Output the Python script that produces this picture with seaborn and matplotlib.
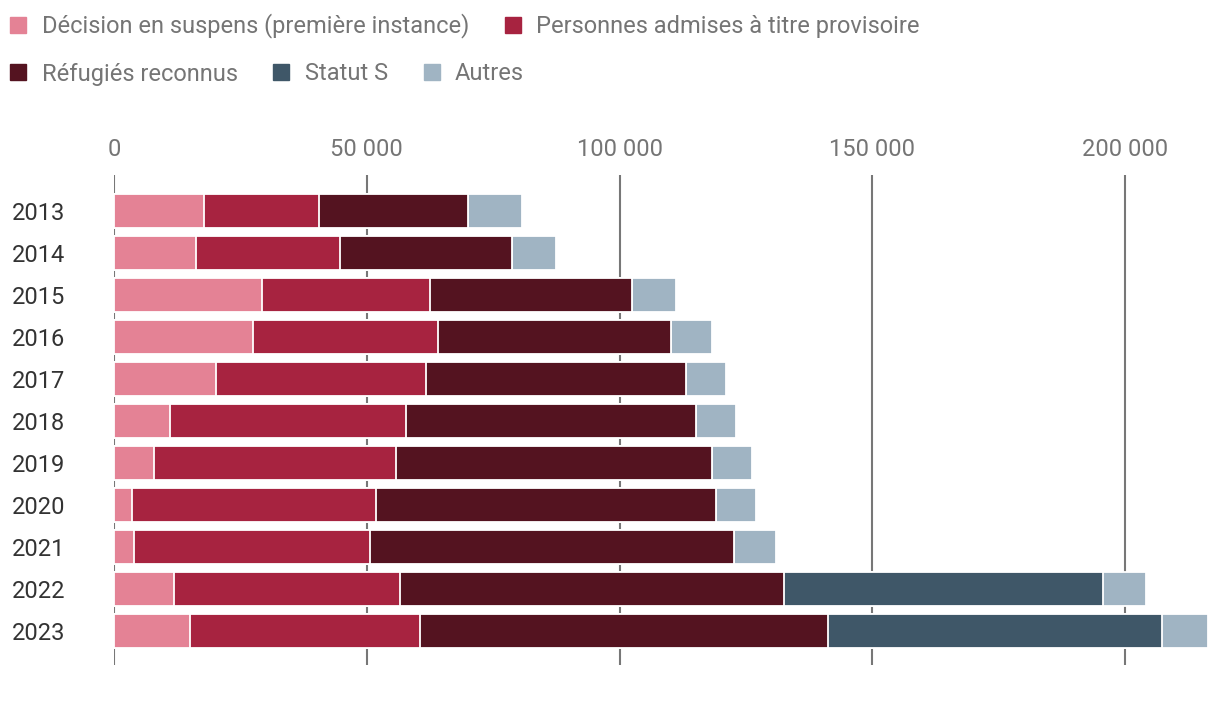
import pandas as pd
import seaborn as sns
import numpy as np
import matplotlib.pyplot as plt
from matplotlib.lines import Line2D
from matplotlib.ticker import FuncFormatter

# values (persons)
years = ["2013", "2014", "2015", "2016", "2017", "2018", "2019", "2020", "2021", "2022", "2023"]
pending = [17800, 16300, 29300, 27400, 20200, 11100, 7900, 3600, 3900, 11900, 15100]
provisional = [22700, 28500, 33200, 36700, 41500, 46700, 47900, 48200, 46700, 44700, 45500]
refugees = [29600, 34000, 40000, 46000, 51500, 57300, 62500, 67300, 72000, 76000, 80700]
status_s = [0, 0, 0, 0, 0, 0, 0, 0, 0, 63000, 66000]
others = [10600, 8700, 8700, 8200, 7900, 8000, 7900, 7900, 8300, 8600, 9100]

series_names = ["Décision en suspens (première instance)", "Personnes admises à titre provisoire",
                "Réfugiés reconnus", "Statut S", "Autres"]
colors = ["#e48295", "#a72340", "#541320", "#3f5768", "#a0b4c3"]

sns.set_style("white")
plt.rcParams["font.family"] = ["Roboto", "DejaVu Sans"]

df = pd.DataFrame({"year": years, "pending": pending, "provisional": provisional,
                   "refugees": refugees, "status_s": status_s, "others": others})
cols = ["pending", "provisional", "refugees", "status_s", "others"]
cum = df[cols].cumsum(axis=1)

fig = plt.figure(figsize=(12.2, 7.12), dpi=100)
ax = fig.add_axes([114 / 1220, 1 - 665 / 712, (1210 - 114) / 1220, (665 - 175) / 712])

# stacked bars: draw cumulative totals from the outermost inwards
for col, color in reversed(list(zip(cols, colors))):
    sns.barplot(x=cum[col], y=df["year"], color=color, orient="h", width=0.8,
                edgecolor="white", linewidth=1.3, saturation=1, ax=ax, zorder=3)

ax.set_xlim(0, 216800)
ax.set_ylim(10.81, -0.857)
ax.set_xticks([0, 50000, 100000, 150000, 200000])
ax.xaxis.set_major_formatter(FuncFormatter(lambda v, p: f"{int(v):,}".replace(",", " ")))
ax.xaxis.tick_top()
ax.grid(axis="x", color="#777777", linewidth=1.5, zorder=0)
ax.grid(axis="y", visible=False)
ax.set_axisbelow(True)
ax.set_xlabel("")
ax.set_ylabel("")
for s in ax.spines.values():
    s.set_visible(False)
ax.tick_params(axis="x", length=0, pad=10, labelsize=17, labelcolor="#757575")
ax.tick_params(axis="y", length=0, pad=0, labelsize=17, labelcolor="#333333")
for lab in ax.get_yticklabels():
    lab.set_horizontalalignment("left")
    lab.set_x(-102 / 1096)

handles = [Line2D([], [], marker="s", linestyle="none", markersize=11, color=c) for c in colors]
leg_kw = dict(loc="center left", frameon=False, fontsize=17, handlelength=0.7,
              handletextpad=0.64, columnspacing=1.5, labelcolor="#757575", borderaxespad=0,
              borderpad=0)
fig.legend(handles[:2], series_names[:2], ncol=2, bbox_to_anchor=(10 / 1220, 1 - 26 / 712), **leg_kw)
fig.legend(handles[2:], series_names[2:], ncol=3, bbox_to_anchor=(10 / 1220, 1 - 74 / 712), **leg_kw)

fig.savefig("out.png", dpi=100)
